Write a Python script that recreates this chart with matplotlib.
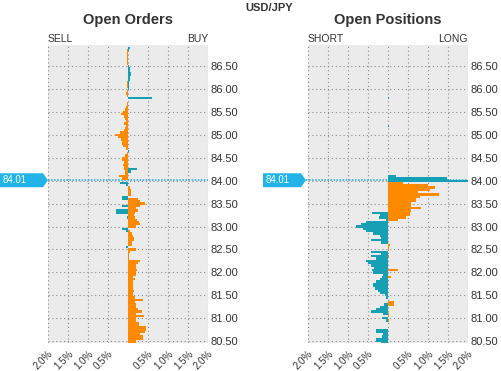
import matplotlib
matplotlib.use("Agg")
import matplotlib.pyplot as plt
from matplotlib.patches import Polygon
from matplotlib.lines import Line2D
from matplotlib.transforms import blended_transform_factory

plt.rcParams['font.family'] = ['Liberation Sans', 'DejaVu Sans']

# ---------------- data ----------------
symbol = "USD/JPY"
current_price = 84.01
split_level = 84.0          # levels >= this are "above" the current price
bucket = 0.05
y_ticks = [80.5, 81.0, 81.5, 82.0, 82.5, 83.0, 83.5, 84.0, 84.5, 85.0, 85.5, 86.0, 86.5]
x_ticks = [-2.0, -1.5, -1.0, -0.5, 0.0, 0.5, 1.0, 1.5, 2.0]
x_ticklabels = ['2.0%', '1.5%', '1.0%', '0.5%', '', '0.5%', '1.0%', '1.5%', '2.0%']

# Open Orders: SELL side (left) percentages by price level
orders_sell = {
    86.85: 0.02, 86.80: 0.02, 86.75: 0.03, 86.70: 0.02, 86.65: 0.03, 86.60: 0.02,
    86.55: 0.02, 86.15: 0.02, 86.10: 0.03, 86.05: 0.02, 85.95: 0.03, 85.90: 0.04,
    85.85: 0.02, 85.75: 0.01, 85.70: 0.02, 85.65: 0.03, 85.60: 0.05, 85.55: 0.08,
    85.50: 0.12, 85.45: 0.18, 85.40: 0.10, 85.35: 0.07, 85.30: 0.05, 85.25: 0.09,
    85.20: 0.06, 85.15: 0.08, 85.10: 0.10, 85.05: 0.20, 85.00: 0.33, 84.95: 0.24,
    84.90: 0.18, 84.85: 0.14, 84.80: 0.16, 84.75: 0.12, 84.70: 0.05, 84.60: 0.02,
    84.55: 0.08, 84.50: 0.14, 84.45: 0.15, 84.40: 0.10, 84.35: 0.12, 84.30: 0.10,
    84.25: 0.10, 84.20: 0.07, 84.15: 0.08, 84.10: 0.22, 84.05: 0.16,
    83.95: 0.19, 83.90: 0.06, 83.65: 0.14, 83.60: 0.14, 83.45: 0.14, 83.35: 0.29,
    83.30: 0.29, 83.20: 0.03, 82.95: 0.16, 82.90: 0.06, 82.55: 0.05,
}
# Open Orders: BUY side (right)
orders_buy = {
    86.90: 0.06, 86.85: 0.02, 86.50: 0.02, 86.45: 0.05, 86.40: 0.05, 86.35: 0.07,
    86.30: 0.08, 86.25: 0.06, 86.20: 0.04, 86.15: 0.02, 86.10: 0.02, 86.05: 0.02,
    86.00: 0.02, 85.80: 0.61, 84.65: 0.03, 84.25: 0.23, 84.20: 0.08,
    83.85: 0.04, 83.80: 0.08, 83.75: 0.08, 83.70: 0.08, 83.60: 0.25, 83.55: 0.31,
    83.50: 0.42, 83.45: 0.30, 83.40: 0.21, 83.35: 0.25, 83.30: 0.17, 83.25: 0.14,
    83.20: 0.17, 83.15: 0.22, 83.10: 0.27, 83.05: 0.31, 83.00: 0.20, 82.90: 0.05,
    82.85: 0.10, 82.80: 0.12, 82.75: 0.15, 82.70: 0.15, 82.65: 0.10, 82.60: 0.11,
    82.50: 0.21, 82.45: 0.06, 82.40: 0.03, 82.35: 0.03, 82.30: 0.03, 82.25: 0.29,
    82.20: 0.25, 82.15: 0.21, 82.10: 0.21, 82.05: 0.22, 82.00: 0.19, 81.95: 0.19,
    81.90: 0.12, 81.85: 0.17, 81.80: 0.12, 81.75: 0.12, 81.70: 0.12, 81.65: 0.12,
    81.60: 0.15, 81.55: 0.12, 81.50: 0.12, 81.45: 0.17, 81.40: 0.37, 81.35: 0.17,
    81.30: 0.21, 81.25: 0.21, 81.20: 0.25, 81.15: 0.36, 81.10: 0.21, 81.05: 0.39,
    81.00: 0.21, 80.95: 0.21, 80.90: 0.27, 80.85: 0.27, 80.80: 0.46, 80.75: 0.46,
    80.70: 0.42, 80.65: 0.29, 80.60: 0.37, 80.55: 0.37, 80.50: 0.19, 80.45: 0.19,
}
# Open Positions: SHORT side (left)
positions_short = {
    83.30: 0.39, 83.25: 0.21, 83.20: 0.22, 83.15: 0.05, 83.10: 0.55, 83.05: 0.67,
    83.00: 0.79, 82.95: 0.62, 82.90: 0.56, 82.85: 0.37, 82.80: 0.21, 82.75: 0.17,
    82.70: 0.43, 82.65: 0.17, 82.45: 0.42, 82.40: 0.17, 82.35: 0.42, 82.30: 0.30,
    82.25: 0.54, 82.20: 0.50, 82.15: 0.42, 82.10: 0.35, 82.05: 0.40, 82.00: 0.38,
    81.95: 0.12, 81.90: 0.15, 81.85: 0.21, 81.80: 0.30, 81.75: 0.37, 81.70: 0.37,
    81.65: 0.33, 81.60: 0.25, 81.55: 0.20, 81.50: 0.08, 81.45: 0.05, 81.30: 0.10,
    81.25: 0.21, 81.20: 0.29, 81.15: 0.42, 81.10: 0.12, 81.00: 0.14, 80.95: 0.06,
    80.75: 0.31, 80.70: 0.31, 80.65: 0.12, 80.60: 0.14, 80.55: 0.29, 80.50: 0.29,
    80.45: 0.17,
}
# Open Positions: LONG side (right)
positions_long = {
    85.80: 0.02, 85.20: 0.02, 84.10: 0.19, 84.05: 1.48, 84.00: 2.0,
    83.95: 0.37, 83.90: 1.00, 83.85: 1.17, 83.80: 1.04, 83.75: 0.75, 83.70: 1.27,
    83.65: 0.79, 83.60: 0.69, 83.55: 0.69, 83.50: 0.58, 83.45: 0.58, 83.40: 0.83,
    83.35: 0.58, 83.30: 0.54, 83.25: 0.54, 83.20: 0.45, 83.15: 0.25, 82.60: 0.04,
    82.55: 0.03, 82.50: 0.03, 82.35: 0.03, 82.05: 0.25, 81.90: 0.08, 81.35: 0.14,
    81.30: 0.14, 81.10: 0.03, 81.05: 0.03, 80.95: 0.03,
}

# ---------------- style ----------------
ORANGE = '#FF8A00'
TEAL = '#179FB6'
TAG = '#22B4E8'
LINE = '#1EA6DC'
BG = '#EBEBEB'
TXT = '#333333'

W, H = 502, 371
fig = plt.figure(figsize=(W / 100, H / 100), dpi=100)


def fx(px):
    return px / W


def fy(py):
    return 1 - py / H


panels = [
    dict(left=48, title="Open Orders", l_lab="SELL", r_lab="BUY",
         left_data=orders_sell, right_data=orders_buy, tag=(0, 43, 48)),
    dict(left=308, title="Open Positions", l_lab="SHORT", r_lab="LONG",
         left_data=positions_short, right_data=positions_long, tag=(263, 301, 306)),
]
ax_w, ax_top, ax_bot = 160, 45, 343

for p in panels:
    ax = fig.add_axes([fx(p['left']), fy(ax_bot), fx(ax_w), (ax_bot - ax_top) / H])
    ax.set_facecolor(BG)
    ax.set_xlim(-2, 2)
    ax.set_ylim(80.46, 86.96)
    ax.set_axisbelow(True)
    for s in ax.spines.values():
        s.set_visible(False)

    # bars
    lp = list(p['left_data'].keys())
    lv = [-v for v in p['left_data'].values()]
    lc = [ORANGE if y >= split_level else TEAL for y in lp]
    ax.barh(lp, lv, height=bucket, color=lc, linewidth=0, zorder=3)
    rp = list(p['right_data'].keys())
    rv = list(p['right_data'].values())
    rc = [TEAL if y >= split_level else ORANGE for y in rp]
    ax.barh(rp, rv, height=bucket, color=rc, linewidth=0, zorder=3)

    # grid & ticks
    ax.set_xticks(x_ticks)
    ax.set_xticklabels(x_ticklabels, rotation=45, ha='right', va='top',
                       rotation_mode='anchor', fontsize=7, color=TXT)
    ax.set_yticks(y_ticks)
    ax.set_yticklabels([f"{v:.2f}" for v in y_ticks], fontsize=8, color=TXT)
    ax.yaxis.tick_right()
    ax.tick_params(axis='both', length=0)
    ax.tick_params(axis='y', pad=2)
    ax.tick_params(axis='x', pad=4)
    ax.grid(True, color='#8a8a8a', linestyle=(0, (1, 2.5)), linewidth=0.8)

    # price line
    tr = blended_transform_factory(fig.transFigure, ax.transData)
    t0, t1, t2 = p['tag']
    ax.add_line(Line2D([fx(t2), fx(p['left'] + ax_w)], [current_price, current_price],
                       transform=tr, color=LINE, linestyle=(0, (1, 1)), linewidth=1.1,
                       zorder=2, clip_on=False))
    h = 7 / 46.0
    poly = Polygon([(fx(t0), current_price + h), (fx(t1), current_price + h),
                    (fx(t2), current_price), (fx(t1), current_price - h),
                    (fx(t0), current_price - h)], closed=True, transform=tr,
                   facecolor=TAG, edgecolor='none', clip_on=False, zorder=5)
    ax.add_patch(poly)
    ax.text(fx(t0 + 3), current_price, f"{current_price:.2f}", transform=tr,
            color='white', fontsize=7, va='center', ha='left', zorder=6, clip_on=False)

    # titles / side labels
    cx = p['left'] + ax_w / 2
    fig.text(fx(cx), fy(20), p['title'], ha='center', va='center',
             fontsize=10.5, fontweight='bold', color=TXT)
    fig.text(fx(p['left']), fy(39), p['l_lab'], ha='left', va='center',
             fontsize=7.5, color=TXT)
    fig.text(fx(p['left'] + ax_w), fy(39), p['r_lab'], ha='right', va='center',
             fontsize=7.5, color=TXT)

fig.text(fx(269), fy(8), symbol, ha='center', va='center', fontsize=8,
         fontweight='bold', color=TXT)

fig.savefig("out.png", dpi=100, facecolor='white')
